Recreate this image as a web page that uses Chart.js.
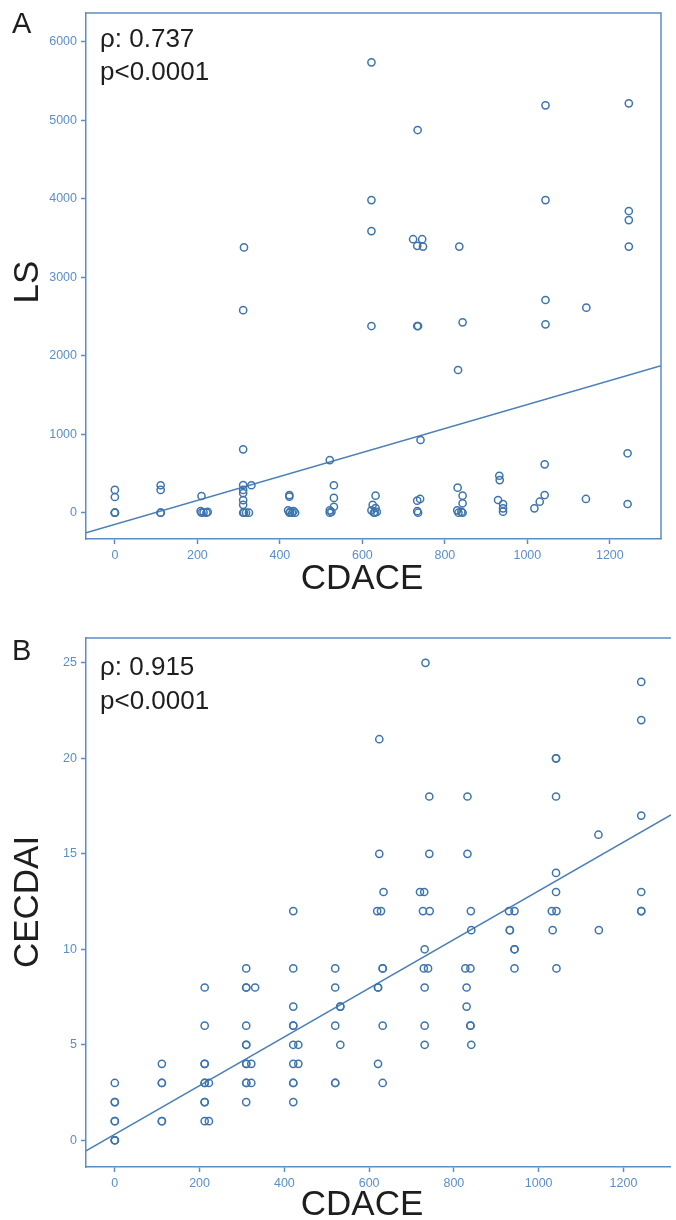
<!DOCTYPE html>
<html lang="en">
<head>
<meta charset="UTF-8">
<title>CDACE vs LS and CECDAI</title>
<script src="https://cdn.jsdelivr.net/npm/chart.js"></script>
<style>
  body { margin: 0; background: #fff; width: 676px; height: 1220px; overflow: hidden; position: relative; }
  canvas { position: absolute; left: 0; }
  #chartA { top: 0; }
  #chartB { top: 620px; }
</style>
</head>
<body>
<canvas id="chartA" width="676" height="612"></canvas>
<canvas id="chartB" width="676" height="600"></canvas>
<script>
// panel A: CDACE vs Lewis score
const cdaceA = [
  0, 0, 0, 0, 0,
  111, 111, 111, 111,
  210, 208, 210, 215, 222, 225,
  313, 311, 311, 311, 311, 311, 311, 311, 311, 313, 318, 325, 331,
  423, 423, 420, 423, 425, 430, 433, 437,
  521, 531, 531, 531, 521, 521, 525,
  622, 622, 622, 622, 632, 625, 632, 622, 630, 635, 628,
  734, 723, 745, 733, 747, 733, 735, 741, 740, 733, 733, 735,
  835, 843, 832, 831, 843, 843, 830, 833, 843, 840,
  932, 933, 929, 941, 941, 941,
  1044, 1044, 1044, 1044, 1042, 1042, 1030, 1017,
  1143, 1142,
  1246, 1246, 1246, 1246, 1243, 1243
];
const lsA = [
  290, 200, 0, 0, 0,
  350, 290, 0, 0,
  213, 20, 0, 5, 0, 10,
  3380, 2580, 807, 353, 290, 250, 160, 100, 0, 0, 0, 0, 350,
  225, 205, 30, 0, 10, 0, 20, 0,
  670, 350, 188, 76, 30, 0, 10,
  5737, 3983, 3588, 2378, 217, 100, 60, 30, 0, 10, 0,
  4875, 3484, 3484, 3400, 3390, 2378, 2378, 926, 175, 153, 20, 0,
  3390, 2425, 1818, 319, 217, 120, 30, 0, 0, 10,
  471, 416, 162, 111, 56, 13,
  5190, 3983, 2710, 2400, 616, 225, 140, 56,
  2612, 175,
  5215, 3843, 3728, 3390, 757, 111
];
const fitA = [-148, 1.527];        // intercept, slope
const statsA = ['\u03c1: 0.737', 'p<0.0001'];
const xTicksA = [0, 200, 400, 600, 800, 1000, 1200];
const yTicksA = [0, 1000, 2000, 3000, 4000, 5000, 6000];

// panel B: CDACE vs CECDAI
const cdaceB = [
  0, 0, 0, 0, 0, 0, 0, 0,
  111, 111, 111, 111, 111,
  212, 212, 212, 212, 212, 212, 212, 212, 212, 222, 222,
  310, 310, 310, 331, 310, 310, 310, 310, 310, 322, 310, 310, 322, 310,
  421, 421, 421, 421, 421, 421, 433, 421, 433, 421, 421, 421,
  520, 520, 532, 532, 520, 532, 520, 520,
  624, 624, 634, 619, 628, 632, 632, 621, 621, 632, 621, 632,
  733, 742, 742, 720, 730, 727, 743, 731, 729, 739, 731, 731, 731,
  832, 832, 840, 841, 827, 839, 830, 830, 839, 839, 841,
  930, 943, 932, 932, 943, 943, 943,
  1041, 1041, 1041, 1041, 1041, 1031, 1042, 1033, 1042,
  1141, 1142,
  1242, 1242, 1242, 1242, 1242, 1242
];
const cecdaiB = [
  3, 2, 2, 1, 1, 0, 0, 0,
  4, 3, 3, 1, 1,
  8, 6, 4, 4, 3, 3, 2, 2, 1, 3, 1,
  9, 8, 8, 8, 6, 5, 5, 4, 4, 4, 3, 3, 3, 2,
  12, 9, 7, 6, 6, 5, 5, 4, 4, 3, 3, 2,
  9, 8, 7, 7, 6, 5, 3, 3,
  21, 15, 13, 12, 12, 9, 9, 8, 8, 6, 4, 3,
  25, 18, 15, 13, 13, 12, 12, 10, 9, 9, 8, 6, 5,
  18, 15, 12, 11, 9, 9, 8, 7, 6, 6, 5,
  12, 12, 11, 11, 10, 10, 9,
  20, 20, 18, 14, 13, 12, 12, 11, 9,
  16, 11,
  24, 22, 17, 13, 12, 12
];
const fitB = [0.307, 0.01275];
const statsB = ['\u03c1: 0.915', 'p<0.0001'];
const xTicksB = [0, 200, 400, 600, 800, 1000, 1200];
const yTicksB = [0, 5, 10, 15, 20, 25];

const axisColor = '#5b8dc6';
const tickColor = '#5a8fca';
const markColor = '#3d74ad';
const lineColor = '#4a7fb8';
Chart.defaults.font.family = '"Liberation Sans", Arial, sans-serif';

const frame = {
  id: 'frame',
  afterDraw(chart, args, o) {
    const ctx = chart.ctx, a = chart.chartArea;
    ctx.save();
    ctx.strokeStyle = axisColor;
    ctx.lineWidth = 1.5;
    ctx.beginPath();
    ctx.moveTo(a.left, a.top);
    ctx.lineTo(a.right, a.top);
    if (o.rightEdge) ctx.lineTo(a.right, a.bottom);
    ctx.stroke();

    ctx.fillStyle = '#1e1e1e';
    ctx.textAlign = 'left';
    ctx.font = '29px "Liberation Sans"';
    ctx.fillText(o.panel, 12, o.panelY);
    ctx.font = '26px "Liberation Sans"';
    ctx.fillText(o.stats[0], 100, a.top + o.statsY[0]);
    ctx.fillText(o.stats[1], 100, a.top + o.statsY[1]);

    ctx.font = '35px "Liberation Sans"';
    ctx.textAlign = 'center';
    ctx.fillText(o.xTitle, 362, o.xTitleY);
    ctx.translate(38, o.yTitleY);
    ctx.rotate(-Math.PI / 2);
    ctx.fillText(o.yTitle, 0, 0);
    ctx.restore();
  }
};

function axis(min, max, ticks, afterFit) {
  return {
    type: 'linear', min: min, max: max,
    afterBuildTicks: s => { s.ticks = ticks.map(v => ({ value: v })); },
    afterFit: afterFit,
    grid: { display: true, drawOnChartArea: false, drawTicks: true, tickLength: 5, tickColor: axisColor, tickWidth: 1.5 },
    border: { display: true, color: axisColor, width: 1.5 },
    ticks: { color: tickColor, font: { size: 12.5 }, padding: 4, maxRotation: 0, autoSkip: false,
             callback: v => String(v) }
  };
}

function makeChart(id, xs, ys, fit, xr, yr, xTicks, yTicks, xH, padding, opts) {
  const pts = xs.map((x, i) => ({ x: x, y: ys[i] }));
  const line = [xr[0], xr[1]].map(x => ({ x: x, y: fit[0] + fit[1] * x }));
  return new Chart(document.getElementById(id), {
    type: 'scatter',
    data: {
      datasets: [
        { data: pts, pointRadius: 3.6, pointHoverRadius: 3.6, pointBorderWidth: 1.5,
          pointBorderColor: markColor, pointBackgroundColor: 'rgba(0,0,0,0)' },
        { data: line, showLine: true, borderColor: lineColor, borderWidth: 1.5, pointRadius: 0 }
      ]
    },
    options: {
      responsive: false,
      animation: false,
      layout: { padding: padding },
      plugins: { legend: { display: false }, tooltip: { enabled: false }, frame: opts },
      scales: {
        x: axis(xr[0], xr[1], xTicks, s => { s.height = xH; }),
        y: axis(yr[0], yr[1], yTicks, s => { s.width = 86; })
      }
    },
    plugins: [frame]
  });
}

makeChart('chartA', cdaceA, lsA, fitA, [-70, 1324], [-335, 6366], xTicksA, yTicksA, 73,
  { top: 13, right: 15, left: 0, bottom: 0 },
  { panel: 'A', panelY: 33, stats: statsA, statsY: [34, 67], xTitle: 'CDACE', xTitleY: 589,
    yTitle: 'LS', yTitleY: 282, rightEdge: true });

makeChart('chartB', cdaceB, cecdaiB, fitB, [-68, 1312], [-1.4, 26.3], xTicksB, yTicksB, 53,
  { top: 18, right: 0, left: 0, bottom: 0 },
  { panel: 'B', panelY: 40, stats: statsB, statsY: [37, 71], xTitle: 'CDACE', xTitleY: 595,
    yTitle: 'CECDAI', yTitleY: 282, rightEdge: false });
</script>
</body>
</html>
